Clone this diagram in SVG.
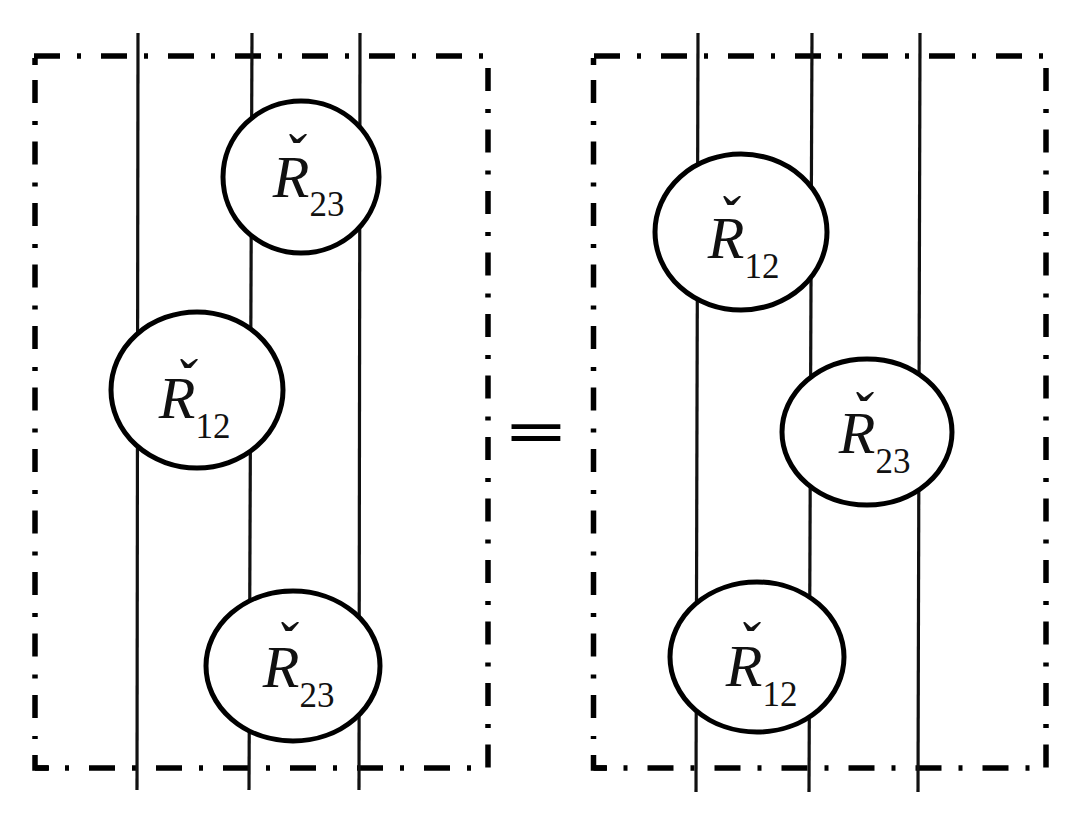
<svg xmlns="http://www.w3.org/2000/svg" width="1080" height="816" viewBox="0 0 1080 816">
<style>
.strand{stroke:#111;stroke-width:3.2;fill:none}
.node ellipse{fill:#fff;stroke:#000;stroke-width:5}
.box line,.box path{fill:none;stroke:#000;stroke-width:5.5}
.h{stroke-dasharray:26 17 4 20}
.v{stroke-dasharray:23 18 4 16.5}
.R{font-family:"Liberation Serif",serif;font-style:italic;font-size:60px;fill:#111}
.sub{font-style:normal;font-size:35px}
.eq{font-family:"DejaVu Sans",sans-serif;font-size:78px;text-anchor:middle;fill:#000}
</style>
<rect width="1080" height="816" fill="#fff"/>
<g id="box-left" class="box">
<line class="h" x1="34" y1="56" x2="484" y2="56"/>
<line class="v" x1="35" y1="80" x2="35" y2="739"/>
<path d="M35,58 V65"/>
<path d="M35,755 V768 H49"/>
<line class="h" x1="35" y1="768" x2="474" y2="768" stroke-dashoffset="13"/>
<line class="v" x1="488" y1="68" x2="488" y2="768"/>
</g>
<g id="box-right" class="box">
<line class="h" x1="594" y1="56" x2="1045" y2="56"/>
<line class="v" x1="593.5" y1="80" x2="593.5" y2="739"/>
<path d="M593.5,58 V65"/>
<path d="M593.5,755 V768 H607"/>
<line class="h" x1="593.5" y1="768" x2="1030" y2="768" stroke-dashoffset="13"/>
<line class="v" x1="1046" y1="68" x2="1046" y2="768"/>
</g>
<g id="connectors">
<line class="strand" x1="138" y1="33" x2="137" y2="790"/>
<line class="strand" x1="252" y1="33" x2="249" y2="790"/>
<line class="strand" x1="360" y1="33" x2="359" y2="790"/>
<line class="strand" x1="698" y1="33" x2="696" y2="792"/>
<line class="strand" x1="812" y1="33" x2="809" y2="792"/>
<line class="strand" x1="920" y1="33" x2="918" y2="792"/>
</g>
<g id="left-R23-top" class="node">
<ellipse cx="301" cy="177" rx="78" ry="76"/>
<text class="R"><tspan x="284 272.8" y="175.4 197">ˇR</tspan><tspan class="sub" x="309.5" y="216">23</tspan></text>
</g>
<g id="left-R12" class="node">
<ellipse cx="197" cy="390" rx="86" ry="78"/>
<text class="R"><tspan x="175 158.8" y="400.4 418">ˇR</tspan><tspan class="sub" x="195.5" y="438">12</tspan></text>
</g>
<g id="left-R23-bottom" class="node">
<ellipse cx="293" cy="666" rx="87" ry="75"/>
<text class="R"><tspan x="276 262.8" y="663.4 687">ˇR</tspan><tspan class="sub" x="299.5" y="707">23</tspan></text>
</g>
<g id="right-R12-top" class="node">
<ellipse cx="741" cy="232" rx="86" ry="78"/>
<text class="R"><tspan x="718 707.8" y="237.4 258">ˇR</tspan><tspan class="sub" x="744.5" y="278">12</tspan></text>
</g>
<g id="right-R23" class="node">
<ellipse cx="867" cy="432" rx="85" ry="73"/>
<text class="R"><tspan x="851 838.8" y="433.4 453">ˇR</tspan><tspan class="sub" x="875.5" y="473">23</tspan></text>
</g>
<g id="right-R12-bottom" class="node">
<ellipse cx="757" cy="657" rx="87" ry="75"/>
<text class="R"><tspan x="738 725.8" y="663.4 686">ˇR</tspan><tspan class="sub" x="762.5" y="706">12</tspan></text>
</g>
<g id="equals">
<text class="eq" transform="translate(536,430) scale(1,0.75)" x="0" y="28">=</text>
</g>
</svg>
